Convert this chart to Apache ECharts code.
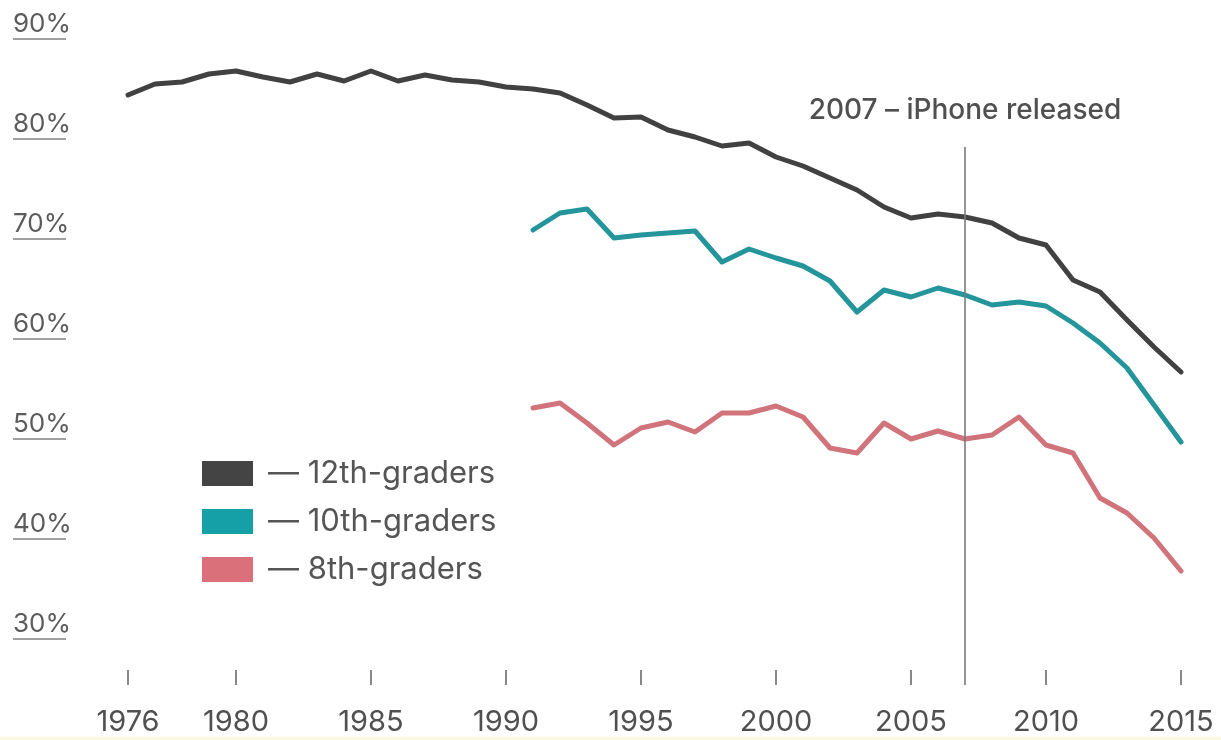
<!DOCTYPE html>
<html>
<head>
<meta charset="utf-8">
<script src="https://cdn.jsdelivr.net/npm/echarts@6/dist/echarts.min.js"></script>
<style>
  html, body { margin: 0; padding: 0; }
  body { background: linear-gradient(to bottom, #ffffff 0px, #ffffff 736px, #fbf9e4 737px, #fbf9e4 740px); }
  #chart { width: 1221px; height: 740px; }
</style>
</head>
<body>
<div id="chart"></div>
<script>
// ---- data ----
const years = [];
for (let y = 1976; y <= 2015; y++) years.push(String(y));
const labelYears = ['1976', '1980', '1985', '1990', '1995', '2000', '2005', '2010', '2015'];
const yTicks = [30, 40, 50, 60, 70, 80, 90];

const grade12 = [82.9, 84.0, 84.2, 85.0, 85.3, 84.7, 84.2, 85.0, 84.3, 85.3,
                 84.3, 84.9, 84.4, 84.2, 83.7, 83.5, 83.1, 81.9, 80.6, 80.7,
                 79.4, 78.7, 77.8, 78.1, 76.7, 75.8, 74.6, 73.4, 71.7, 70.6,
                 71.0, 70.7, 70.1, 68.6, 67.9, 64.4, 63.2, 60.4, 57.7, 55.2];
const grade10 = [null, null, null, null, null, null, null, null, null, null,
                 null, null, null, null, null, 69.4, 71.1, 71.5, 68.6, 68.9,
                 69.1, 69.3, 66.2, 67.5, 66.6, 65.8, 64.3, 61.2, 63.4, 62.7,
                 63.6, 62.9, 61.9, 62.2, 61.8, 60.1, 58.1, 55.6, 51.9, 48.2];
const grade8  = [null, null, null, null, null, null, null, null, null, null,
                 null, null, null, null, null, 51.6, 52.1, 50.1, 47.9, 49.6,
                 50.2, 49.2, 51.1, 51.1, 51.8, 50.7, 47.6, 47.1, 50.1, 48.5,
                 49.3, 48.5, 48.9, 50.7, 47.9, 47.1, 42.6, 41.1, 38.6, 35.3];

const seriesNames = ['12th-graders', '10th-graders', '8th-graders'];
const lineColors = ['#414141', '#23959b', '#d0737a'];
const iconColors = ['#444444', '#15a0a8', '#d9707a'];

const eventYear = '2007';
const eventLabel = '2007 – iPhone released';
const eventTop = 77.7;
const eventBottom = 23.9;

// ---- chart ----
const FONT = 'Inter, "Noto Sans", sans-serif';
const chart = echarts.init(document.getElementById('chart'), null, { renderer: 'canvas' });

const allData = [grade12, grade10, grade8];

const series = [];
// event line (lowest)
series.push({
  type: 'line', name: 'event', data: [], xAxisIndex: 0, yAxisIndex: 0, z: 1,
  silent: true,
  markLine: {
    silent: true,
    symbol: ['none', 'none'],
    animation: false,
    lineStyle: { color: '#7a7a7a', width: 1.6, type: 'solid' },
    label: {
      show: true, position: 'start', distance: 22,
      formatter: eventLabel,
      color: '#505050', fontSize: 28, fontWeight: 500, fontFamily: FONT
    },
    emphasis: { disabled: true },
    data: [[{ coord: [eventYear, eventTop] }, { coord: [eventYear, eventBottom] }]]
  }
});
// white halos
allData.forEach((d, i) => {
  series.push({
    type: 'line', name: 'halo' + i, data: d, xAxisIndex: 0, yAxisIndex: 0, z: 2,
    symbol: 'none', silent: true, connectNulls: false,
    lineStyle: { color: '#ffffff', width: 18 },
    emphasis: { disabled: true }
  });
});
// main lines
allData.forEach((d, i) => {
  series.push({
    type: 'line', name: seriesNames[i], data: d, xAxisIndex: 0, yAxisIndex: 0, z: 3,
    symbol: 'none', itemStyle: { color: iconColors[i] },
    lineStyle: { color: lineColors[i], width: 5, join: 'round', cap: 'round' },
    emphasis: { disabled: true }
  });
});

const option = {
  backgroundColor: 'transparent',
  animation: false,
  grid: [
    { left: 128, right: 40, top: 24, height: 700 },
    { left: 66, right: 40, top: 39, height: 600 }
  ],
  legend: {
    data: seriesNames,
    orient: 'vertical',
    left: 197, top: 453,
    itemWidth: 51, itemHeight: 25, itemGap: 17,
    icon: 'rect',
    selectedMode: false,
    formatter: '— {name}',
    textStyle: { color: '#555', fontSize: 31, fontFamily: FONT, lineHeight: 25, padding: [0, 0, 0, 10] }
  },
  xAxis: [
    {
      type: 'category', gridIndex: 0, data: years, boundaryGap: false,
      offset: -54,
      axisLine: { show: false },
      axisTick: {
        show: true, length: 15,
        interval: (idx, val) => labelYears.indexOf(val) >= 0,
        lineStyle: { color: '#888', width: 2 }
      },
      axisLabel: {
        show: true, margin: 38,
        interval: (idx, val) => labelYears.indexOf(val) >= 0,
        color: '#505050', fontSize: 29, fontFamily: FONT
      },
      splitLine: { show: false }
    },
    {
      type: 'category', gridIndex: 1, data: years, show: false
    }
  ],
  yAxis: [
    {
      type: 'value', gridIndex: 0, min: 20, max: 90, interval: 10,
      axisLine: { show: false }, axisTick: { show: false }, splitLine: { show: false },
      axisLabel: {
        show: true, align: 'left', margin: 115,
        formatter: v => (yTicks.indexOf(v) >= 0 ? v + '%' : ''),
        color: '#5c5c5c', fontSize: 26, fontFamily: FONT
      }
    },
    {
      type: 'value', gridIndex: 1, min: 30, max: 90, interval: 10,
      axisLine: { show: false },
      axisLabel: { show: false },
      splitLine: { show: false },
      axisTick: { show: true, length: 53, lineStyle: { color: '#a0a0a0', width: 2 } }
    }
  ],
  series: series
};
chart.setOption(option);
</script>
</body>
</html>
